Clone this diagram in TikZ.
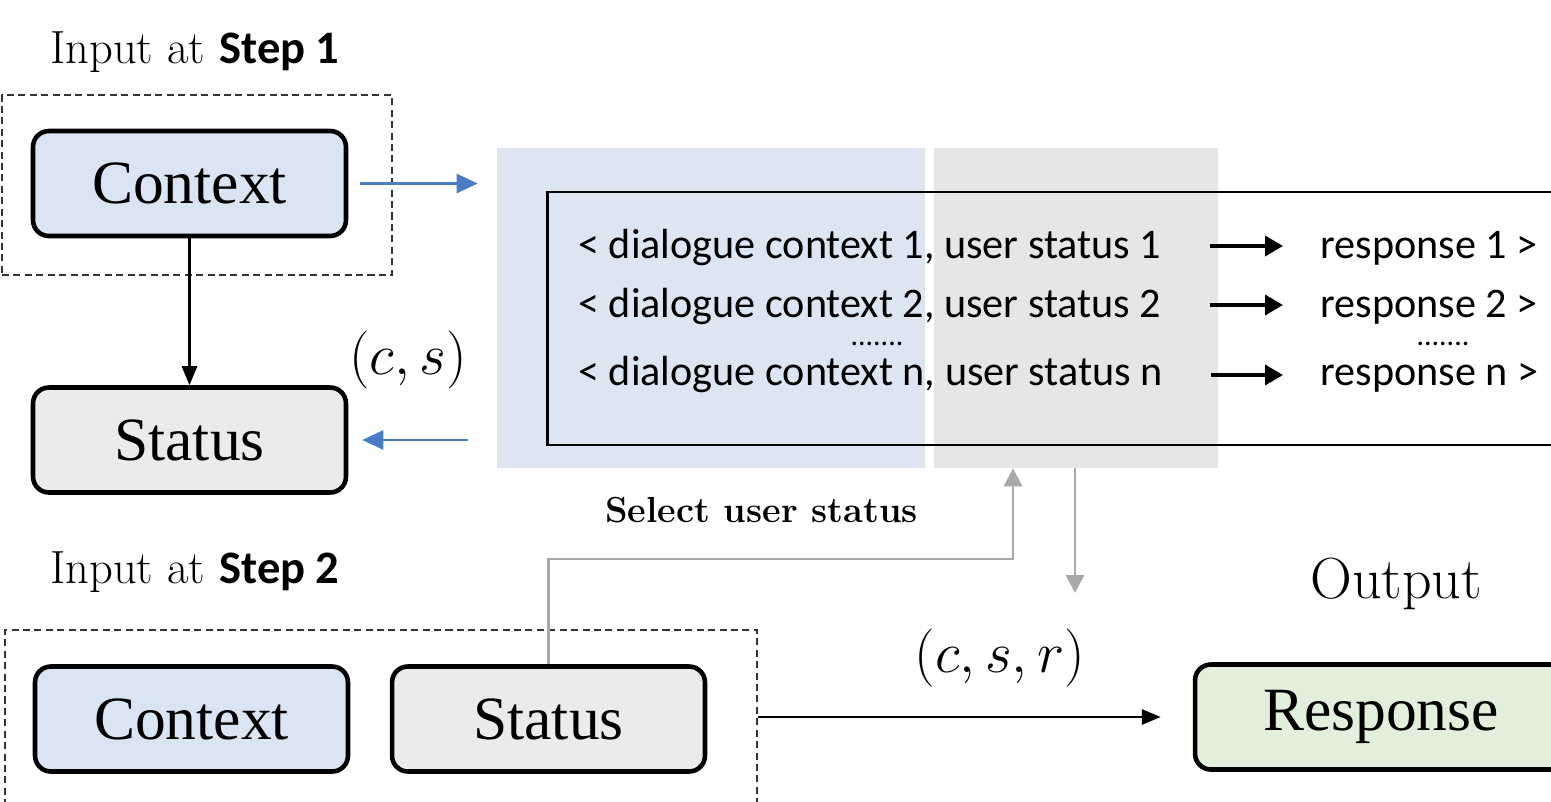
\RequirePackage{fix-cm}
\documentclass[tikz,border=0pt]{standalone}
\usepackage{fontspec}
\newfontfamily\timesfont{Liberation Serif}
\newfontfamily\listfont{Carlito}
\usepackage{tikz}
\usetikzlibrary{arrows.meta}
\definecolor{ctxblue}{HTML}{DAE5F3}
\definecolor{stagray}{HTML}{EBEBEB}
\definecolor{resgreen}{HTML}{E2EFDA}
\definecolor{colblue}{HTML}{DCE6F2}
\definecolor{colgray}{HTML}{E7E5E5}
\definecolor{linkblue}{HTML}{4A7CC6}
\definecolor{linkgray}{HTML}{A8A8A8}
\tikzstyle{box} = [draw=black, line width=2.6pt, rounded corners=9pt, minimum width=6.26cm, minimum height=2.1cm, font={\timesfont\fontsize{35}{40}\selectfont}]
\tikzstyle{ctx} = [fill=ctxblue]
\tikzstyle{sta} = [fill=stagray]
\tikzstyle{res} = [fill=resgreen]
\tikzstyle{inbox} = [draw=black!80, line width=1.3pt, dash pattern=on 4pt off 2.5pt]
\tikzstyle{col} = [inner sep=0, minimum height=6.4cm]
\tikzstyle{set} = [draw=black, line width=1.6pt, inner sep=0, minimum width=21.06cm, minimum height=5.06cm]
\tikzstyle{item} = [anchor=base west, inner sep=0, font={\listfont\fontsize{24}{28}\selectfont}]
\tikzstyle{dots} = [anchor=base, inner sep=0, font={\listfont\fontsize{17}{20}\selectfont}]
\tikzstyle{lab} = [anchor=base west, inner sep=0, font={\fontsize{26.5}{30}\selectfont}]
\tikzstyle{mathlab} = [inner sep=0, font={\fontsize{33}{40}\selectfont}]
\tikzstyle{link} = [-{Triangle[length=0.38cm,width=0.3cm]}, draw=black, line width=1.6pt]
\tikzstyle{itemlink} = [-{Triangle[length=0.36cm,width=0.4cm]}, draw=black, line width=2.1pt]
\tikzstyle{bluelink} = [-{Triangle[length=0.42cm,width=0.38cm]}, draw=linkblue, line width=1.5pt]
\tikzstyle{graylink} = [-{Triangle[length=0.36cm,width=0.36cm]}, draw=linkgray, line width=1.6pt]

\begin{document}
\begin{tikzpicture}[x=0.02cm, y=-0.02cm]
  \useasboundingbox (0,0) rectangle (1551,801);
  \clip (0,0) rectangle (1551,801);
  % whole set
  \node[col, fill=colblue, minimum width=8.56cm] (ctxcol) at (711,308) {};
  \node[col, fill=colgray, minimum width=5.68cm] (stacol) at (1076,308) {};
  \node[set] (set) at (1073.5,318.5) {};
  \node[item] (l1) at (578,258) {< dialogue context 1, user status 1};
  \node[item] (l2) at (578,317) {< dialogue context 2, user status 2};
  \node[item] (ln) at (578,385) {< dialogue context n, user status n};
  \node[item] (r1) at (1320,258) {response 1 >};
  \node[item] (r2) at (1320,317) {response 2 >};
  \node[item] (rn) at (1320,385) {response n >};
  \node[dots] (d1) at (877,345) {.......};
  \node[dots] (d2) at (1443,345) {.......};
  \draw[itemlink, shorten <=0.96cm, shorten >=0.74cm] ([yshift=0.24cm]l1.base east) -- ([yshift=0.24cm]r1.base west);
  \draw[itemlink, shorten <=0.96cm, shorten >=0.74cm] ([yshift=0.24cm]l2.base east) -- ([yshift=0.24cm]r2.base west);
  \draw[itemlink, shorten <=0.96cm, shorten >=0.74cm] ([yshift=0.2cm]ln.base east) -- ([yshift=0.2cm]rn.base west);

  % step 1
  \node[lab] (step1) at (50,63) {Input at {\listfont\bfseries Step 1}};
  \node[inbox, minimum width=7.8cm, minimum height=3.6cm] (in1) at (197,185) {};
  \node[box, ctx] (ctx1) at (189.5,183.5) {Context};
  \node[box, sta] (sta1) at (189.5,440) {Status};
  \node[mathlab] (cs) at (408,360) {$(c,s)$};
  \draw[link] (ctx1) -- (sta1);
  \draw[bluelink, shorten <=0.24cm, shorten >=0.38cm] (ctx1.east) -- (ctx1.east -| ctxcol.west);
  \draw[bluelink, shorten <=0.58cm, shorten >=0.28cm] (sta1.east -| ctxcol.west) -- (sta1.east);

  % step 2
  \node[anchor=base west, inner sep=0, font={\bfseries\fontsize{20.6}{24}\selectfont}] (sel) at (605,522) {Select user status};
  \node[lab] (step2) at (50,583) {Input at {\listfont\bfseries Step 2}};
  \node[inbox, minimum width=15.04cm, minimum height=4cm] (in2) at (381,730) {};
  \node[box, ctx] (ctx2) at (191.5,719) {Context};
  \node[box, sta] (sta2) at (548.5,719) {Status};
  \coordinate (turn) at (1013,559);
  \coordinate (drop) at (1075,593);
  \draw[graylink] (sta2.north) |- (turn) -- (turn |- stacol.south);
  \draw[graylink] (stacol.south -| drop) -- (drop);

  % output
  \node[anchor=base west, inner sep=0, font={\fontsize{33}{36}\selectfont}] (out) at (1310,598) {Output};
  \node[mathlab] (csr) at (1000,658) {$(c,s,r)$};
  \node[box, res, minimum width=7.44cm] (resp) at (1381,717) {Response};
  \draw[link, shorten >=0.64cm] (in2.east |- resp.west) -- (resp.west);
\end{tikzpicture}
\end{document}
